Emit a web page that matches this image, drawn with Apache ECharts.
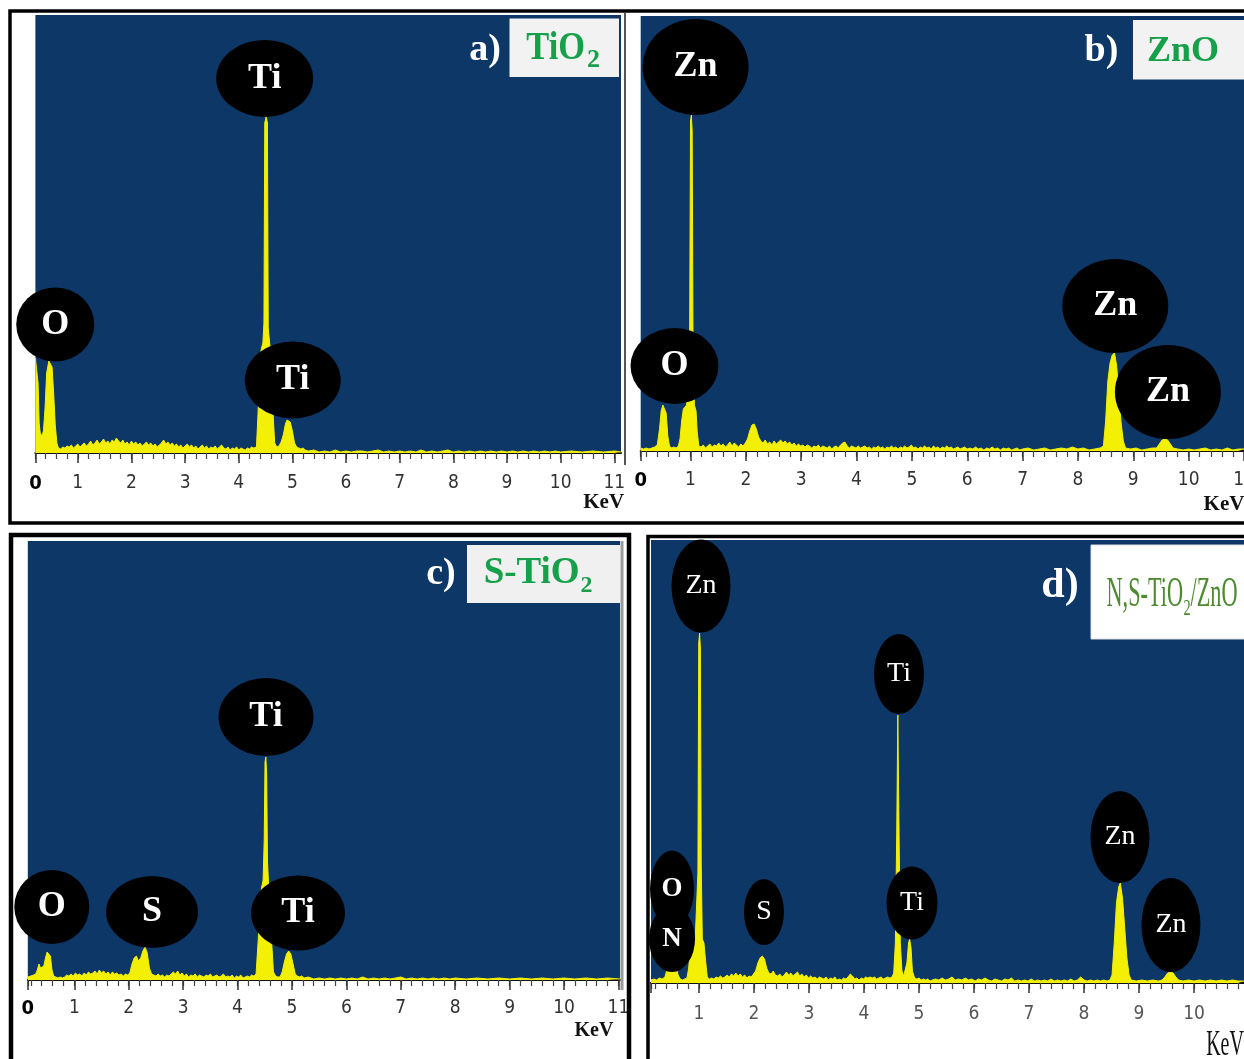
<!DOCTYPE html>
<html><head><meta charset="utf-8">
<script src="https://cdn.jsdelivr.net/npm/echarts@6/dist/echarts.min.js"></script>
<style>html,body{margin:0;padding:0;background:#fff}#c{width:1244px;height:1059px}</style>
</head><body><div id="c"></div>
<script>
// ---------- DATA (energy in keV, intensity in counts) ----------
const tickLabels = [0,1,2,3,4,5,6,7,8,9,10,11];

const specA = [[0.21,95],[0.235,93],[0.26,70],[0.28,30],[0.30,20],[0.33,17],[0.36,22],[0.39,45],[0.42,80],[0.46,92],[0.49,94],[0.52,86],[0.55,60],[0.58,28],[0.61,10],[0.64,5],
[0.68,4],[0.72,6],[0.76,5],[0.80,7],[0.84,6],[0.88,8],[0.92,5],[0.96,7],[1.00,9],[1.04,6],[1.08,8],[1.12,10],[1.16,7],[1.20,9],[1.24,12],[1.28,8],[1.32,10],[1.36,13],[1.40,9],[1.44,11],[1.48,14],[1.52,10],[1.56,12],[1.60,9],[1.64,13],[1.68,11],[1.72,15],[1.76,12],[1.80,10],[1.84,13],[1.88,9],[1.92,11],[1.96,8],[2.00,12],[2.04,9],[2.08,11],[2.12,8],[2.16,10],[2.20,7],[2.24,9],[2.28,11],[2.32,8],[2.36,10],[2.40,7],[2.44,9],[2.48,6],[2.52,8],[2.56,10],[2.60,13],[2.64,9],[2.68,11],[2.72,8],[2.76,10],[2.80,7],[2.84,9],[2.88,6],[2.92,8],[2.96,5],[3.00,7],[3.04,9],[3.08,6],[3.12,8],[3.16,5],[3.20,7],[3.24,4],[3.28,6],[3.32,8],[3.36,5],[3.40,7],[3.44,4],[3.48,6],[3.52,5],[3.56,7],[3.60,4],[3.64,6],[3.68,8],[3.72,5],[3.76,4],[3.80,6],[3.84,3],[3.88,5],[3.92,4],[3.96,6],[4.00,3],[4.04,5],[4.08,4],[4.12,3],[4.16,5],[4.20,4],[4.24,6],[4.28,5],
[4.33,6],[4.36,40],[4.39,90],[4.42,104],[4.45,110],[4.47,130],[4.485,330],[4.51,336],[4.535,330],[4.55,125],[4.58,108],[4.61,95],[4.64,40],[4.67,10],[4.71,6],[4.75,7],[4.79,11],
[4.83,18],[4.87,29],[4.90,33],[4.93,34],[4.96,31],[5.00,22],[5.04,10],[5.08,6],[5.12,5],[5.16,4],[5.20,5],[5.24,3],
[5.30,2],[5.40,3],[5.50,1],[5.60,2],[5.70,1],[5.80,3],[5.90,1],[6.00,2],[6.10,1],[6.20,2],[6.30,2],[6.40,1],[6.50,2],[6.60,3],[6.70,1],[6.80,2],[6.90,1],[7.00,2],[7.10,1],[7.20,2],[7.30,1],[7.40,3],[7.50,1],[7.60,2],[7.70,1],[7.80,2],[7.90,3],[8.00,1],[8.10,2],[8.20,1],[8.30,2],[8.40,1],[8.50,2],[8.60,1],[8.70,2],[8.80,1],[8.90,2],[9.00,1],[9.10,2],[9.20,1],[9.30,2],[9.40,1],[9.50,2],[9.60,1],[9.70,2],[9.80,1],[9.90,2],[10.00,1],[10.20,2],[10.40,1],[10.60,2],[10.80,1],[11.00,2],[11.125,1]];

const specB = [[0.10,3],[0.15,2],[0.20,3],[0.25,2],[0.30,3],[0.35,4],[0.40,6],[0.44,22],[0.47,40],[0.50,46],[0.53,47],[0.56,38],[0.59,15],[0.62,5],[0.66,3],[0.70,4],[0.74,3],[0.78,5],[0.81,12],[0.84,30],[0.87,42],[0.90,44],[0.93,46],[0.96,48],[0.985,120],[1.00,330],[1.015,336],[1.03,320],[1.045,110],[1.07,46],[1.10,40],[1.12,20],[1.15,5],
[1.19,4],[1.23,6],[1.27,3],[1.31,5],[1.35,7],[1.39,4],[1.43,6],[1.47,5],[1.51,8],[1.55,5],[1.59,7],[1.63,4],[1.67,6],[1.71,9],[1.75,5],[1.79,8],[1.83,6],[1.87,4],[1.91,7],[1.95,5],[1.99,8],
[2.03,12],[2.07,20],[2.11,26],[2.15,27],[2.19,22],[2.23,14],[2.27,10],[2.31,8],[2.35,11],[2.39,7],[2.43,9],[2.47,6],[2.51,10],[2.55,7],[2.59,9],[2.63,11],[2.67,8],[2.71,10],[2.75,7],[2.79,9],[2.83,6],[2.87,8],[2.91,5],[2.95,7],[2.99,5],[3.03,6],[3.07,4],[3.11,6],[3.15,5],[3.19,3],[3.23,5],[3.27,4],[3.31,6],[3.35,3],[3.39,5],[3.43,4],[3.47,3],[3.51,5],[3.55,2],[3.59,4],[3.63,5],[3.67,3],[3.71,6],[3.75,8],[3.79,9],[3.83,5],[3.87,3],[3.91,5],[3.95,4],[3.99,3],[4.03,5],[4.07,3],[4.11,4],[4.15,5],[4.19,3],[4.23,4],[4.27,2],[4.31,4],[4.35,3],[4.39,5],[4.43,3],[4.47,4],[4.51,2],[4.55,4],[4.59,3],[4.63,5],[4.67,3],[4.71,4],[4.75,2],[4.79,4],[4.83,3],[4.87,5],[4.91,3],[4.95,4],[4.99,6],[5.03,3],[5.07,4],[5.11,2],[5.15,4],[5.19,3],[5.23,5],[5.27,3],[5.31,4],[5.35,2],[5.39,5],[5.43,3],[5.47,4],[5.51,2],[5.55,4],[5.59,3],[5.63,5],[5.67,3],[5.71,4],[5.75,2],[5.79,3],[5.83,4],[5.87,2],[5.91,3],[5.95,4],[6.00,2],[6.05,3],[6.10,2],[6.15,4],[6.20,2],[6.25,3],[6.30,1],[6.35,3],[6.40,2],[6.45,4],[6.50,2],[6.55,3],[6.60,1],[6.65,3],[6.70,2],[6.75,3],[6.80,1],[6.85,2],[6.90,3],[6.95,1],[7.00,2],[7.10,3],[7.20,1],[7.30,2],[7.40,3],[7.50,1],[7.60,2],[7.70,3],[7.80,2],[7.90,4],[8.00,2],[8.10,3],[8.20,1],[8.30,2],[8.40,3],
[8.46,5],[8.50,30],[8.54,70],[8.58,88],[8.62,96],[8.66,98],[8.70,85],[8.74,55],[8.78,28],[8.82,10],[8.86,3],
[8.95,2],[9.05,3],[9.15,1],[9.25,2],[9.35,3],[9.42,3],
[9.47,7],[9.52,11],[9.57,12],[9.62,11],[9.67,7],[9.72,3],
[9.80,2],[9.90,1],[10.00,2],[10.10,1],[10.20,2],[10.30,3],[10.40,1],[10.50,2],[10.60,1],[10.70,3],[10.80,1],[10.90,2],[11.00,2]];

const specC = [[0.145,3],[0.20,4],[0.25,5],[0.29,6],[0.32,10],[0.35,16],[0.38,12],[0.41,10],[0.44,14],[0.47,22],[0.50,28],[0.53,30],[0.56,24],[0.59,10],[0.62,4],[0.66,3],[0.70,2],[0.74,3],[0.78,2],[0.82,3],[0.86,5],[0.90,4],[0.94,6],[0.98,4],[1.02,7],[1.06,5],[1.10,6],[1.14,4],[1.18,7],[1.22,5],[1.26,8],[1.30,6],[1.34,7],[1.38,9],[1.42,6],[1.46,10],[1.50,7],[1.54,9],[1.58,6],[1.62,8],[1.66,5],[1.70,8],[1.74,6],[1.78,7],[1.82,5],[1.86,6],[1.90,4],[1.94,6],[1.98,5],
[2.02,7],[2.06,16],[2.10,22],[2.14,24],[2.18,19],[2.22,22],[2.26,29],[2.30,33],[2.34,27],[2.38,12],[2.42,6],[2.46,5],[2.50,4],[2.54,6],[2.58,4],[2.62,5],[2.66,3],[2.70,5],[2.74,4],[2.78,6],[2.82,8],[2.86,6],[2.90,9],[2.94,5],[2.98,7],[3.02,4],[3.06,6],[3.10,3],[3.14,5],[3.18,4],[3.22,6],[3.26,3],[3.30,5],[3.34,4],[3.38,3],[3.42,5],[3.46,4],[3.50,6],[3.54,3],[3.58,4],[3.62,5],[3.66,3],[3.70,4],[3.74,6],[3.78,3],[3.82,4],[3.86,3],[3.90,5],[3.94,2],[3.98,4],[4.02,3],[4.06,5],[4.10,2],[4.14,3],[4.18,4],[4.22,3],[4.26,5],[4.30,4],[4.34,6],
[4.38,40],[4.41,75],[4.44,92],[4.47,100],[4.49,140],[4.505,218],[4.52,223],[4.535,205],[4.55,120],[4.57,95],[4.60,80],[4.63,35],[4.66,8],[4.70,4],[4.74,3],[4.78,3],[4.82,8],
[4.86,18],[4.90,26],[4.94,29],[4.98,26],[5.02,16],[5.06,6],[5.10,4],[5.14,3],[5.18,4],[5.22,2],
[5.30,3],[5.40,1],[5.50,2],[5.60,1],[5.70,2],[5.80,1],[5.90,2],[6.00,1],[6.10,2],[6.20,1],[6.30,3],[6.40,1],[6.50,2],[6.60,1],[6.70,2],[6.80,1],[6.90,2],[7.00,3],[7.10,1],[7.20,2],[7.30,1],[7.40,2],[7.50,1],[7.60,2],[7.70,1],[7.80,2],[7.90,1],[8.00,2],[8.20,1],[8.40,2],[8.60,1],[8.80,2],[9.00,1],[9.20,2],[9.40,1],[9.60,2],[9.80,1],[10.00,2],[10.20,1],[10.40,2],[10.60,1],[10.80,2],[11.029,1]];

const specD = [[0.127,3],[0.18,4],[0.23,3],[0.28,5],[0.33,4],[0.38,6],[0.42,14],[0.46,24],[0.50,28],[0.54,26],[0.58,18],[0.62,8],[0.66,4],[0.70,3],[0.74,4],[0.78,5],[0.81,14],[0.84,32],[0.87,40],[0.90,42],[0.93,43],[0.96,45],[0.98,110],[0.995,340],[1.01,350],[1.025,335],[1.04,120],[1.06,44],[1.09,40],[1.12,22],[1.15,6],[1.19,4],
[1.23,5],[1.27,4],[1.31,6],[1.35,5],[1.39,7],[1.43,5],[1.47,6],[1.51,8],[1.55,6],[1.59,9],[1.63,7],[1.67,10],[1.71,7],[1.75,9],[1.79,6],[1.83,8],[1.87,5],[1.91,7],[1.95,6],[1.99,9],
[2.03,12],[2.07,20],[2.11,25],[2.15,27],[2.19,24],[2.23,15],[2.27,10],[2.31,9],[2.35,12],[2.39,8],[2.43,7],[2.47,9],[2.51,6],[2.55,8],[2.59,11],[2.63,8],[2.67,10],[2.71,7],[2.75,9],[2.79,11],[2.83,7],[2.87,9],[2.91,6],[2.95,8],[2.99,5],[3.03,7],[3.07,5],[3.11,6],[3.15,4],[3.19,6],[3.23,5],[3.27,4],[3.31,6],[3.35,3],[3.39,5],[3.43,4],[3.47,6],[3.51,3],[3.55,4],[3.59,3],[3.63,5],[3.67,4],[3.71,6],[3.75,9],[3.79,7],[3.83,4],[3.87,5],[3.91,3],[3.95,5],[3.99,4],[4.03,6],[4.07,5],[4.11,6],[4.15,5],[4.19,6],[4.23,4],[4.27,5],[4.31,6],[4.35,4],[4.39,5],[4.43,6],[4.47,5],[4.51,6],
[4.54,10],[4.57,40],[4.595,150],[4.615,268],[4.635,160],[4.66,40],[4.69,12],[4.72,7],[4.75,8],
[4.78,20],[4.81,40],[4.83,44],[4.855,35],[4.88,12],[4.92,5],[4.96,4],[5.00,5],[5.04,3],[5.08,4],[5.12,3],[5.16,4],[5.20,2],[5.24,3],
[5.30,4],[5.36,3],[5.42,5],[5.48,3],[5.54,4],[5.60,6],[5.66,3],[5.72,4],[5.78,3],[5.84,5],[5.90,3],[5.96,4],[6.02,2],[6.08,4],[6.14,3],[6.20,5],[6.26,3],[6.32,2],[6.38,4],[6.44,3],[6.50,2],[6.56,4],[6.62,3],[6.68,5],[6.74,2],[6.80,3],[6.86,2],[6.92,3],[6.98,2],[7.04,4],[7.10,2],[7.16,3],[7.22,2],[7.28,3],[7.34,2],[7.40,4],[7.46,2],[7.52,3],[7.58,2],[7.64,3],[7.70,2],[7.76,4],[7.82,2],[7.88,3],[7.94,6],[8.00,3],[8.06,2],[8.12,3],[8.18,2],[8.24,3],[8.30,2],[8.36,3],[8.42,2],[8.47,3],
[8.51,8],[8.55,40],[8.59,80],[8.63,96],[8.66,100],[8.70,85],[8.74,55],[8.78,25],[8.82,8],[8.86,3],
[8.95,2],[9.05,3],[9.15,2],[9.25,3],[9.35,2],[9.42,3],
[9.47,6],[9.52,10],[9.57,11],[9.62,10],[9.67,6],[9.72,3],
[9.80,2],[9.90,3],[10.00,2],[10.10,3],[10.20,2],[10.30,3],[10.40,2],[10.50,3],[10.60,2],[10.70,3],[10.80,2],[10.909,2]];

// peak annotations: [element, keV, counts]
const peaksA = [['O',0.58,128.5],['Ti',4.484,374.6],['Ti',5.007,73]];
const peaksB = [['Zn',1.092,384],['O',0.711,85],['Zn',8.675,145],['Zn',9.625,59]];
const peaksC = [['O',0.586,73],['S',2.428,68],['Ti',4.523,263],['Ti',5.111,67]];
const peaksD = [['Zn',1.036,397],['O',0.509,94],['N',0.509,44],['S',2.181,71],['Ti',4.636,309],['Ti',4.873,80],['Zn',8.654,146],['Zn',9.581,58]];

// ---------- STYLE / LAYOUT ----------
const ellipseA = [[78,74],[97,77],[96,77]];
const ellipseB = [[106,96],[88,76],[106,94],[106,94]];
const ellipseC = [[75,74],[92,72],[95,78],[94,75]];
const ellipseD = [[59,93],[44,77],[46,66],[40,66],[50,80],[51,73],[59,92],[59,94]];

const BLUE = '#0c3767', YELLOW = '#f3ef05', GREEN = '#17a04a', OLIVE = '#4e8a2f';
const SERIF = "'Liberation Serif','Times New Roman',serif";
const NARROW = "'Liberation Sans Narrow','Arial Narrow','DejaVu Sans Condensed',sans-serif";
const ELLIPSE = 'path://M0,50A50,50,0,1,1,100,50A50,50,0,1,1,0,50Z';

const panels = [
  {spec:specA, peaks:peaksA, sizes:ellipseA, grid:{left:35.4, top:15, width:585.6, height:438}, xMin:0.21, xMax:11.125, yMax:438, zero:true, margin:21, lblColor:'#333', lbl:{size:36, weight:'bold'}},
  {spec:specB, peaks:peaksB, sizes:ellipseB, grid:{left:640.7, top:16, width:603.3, height:435}, xMin:0.10, xMax:11.0, yMax:435, zero:true, margin:20, lblColor:'#333', lbl:{size:36, weight:'bold'}},
  {spec:specC, peaks:peaksC, sizes:ellipseC, grid:{left:27.8, top:541, width:592.2, height:439}, xMin:0.145, xMax:11.029, yMax:439, zero:true, margin:19, lblColor:'#333', lbl:{size:36, weight:'bold'}},
  {spec:specD, peaks:peaksD, sizes:ellipseD, grid:{left:651, top:540, width:593, height:443}, xMin:0.127, xMax:10.909, yMax:443, zero:false, margin:22, lblColor:'#555', lbl:{size:28, weight:'normal', boldFor:['O','N'], boldSize:27}}
];

function minorTicks(min, max) {
  const t = [min];
  for (let k = 1; k * 0.2 <= max + 1e-9; k++) {
    const v = Math.round(k * 2) / 10;
    if (v > min + 0.05) t.push(v);
  }
  return t;
}

const grids = [], xAxes = [], yAxes = [], series = [];
panels.forEach((p, i) => {
  grids.push(Object.assign({show:true, backgroundColor:BLUE, borderWidth:0, containLabel:false, outerBoundsMode:'none'}, p.grid));
  const majors = [p.xMin].concat(tickLabels.filter(v => v >= 1 && v <= p.xMax + 1e-6));
  const lblVals = tickLabels.filter(v => v <= p.xMax + 1e-6 && (v > 0 || p.zero)).map(v => v === 0 ? p.xMin : v);
  xAxes.push({
    type:'value', gridIndex:i, position:'bottom', min:p.xMin, max:p.xMax,
    axisLine:{show:true, onZero:false, lineStyle:{color:'#111', width:2}},
    axisTick:{show:true, customValues:minorTicks(p.xMin, p.xMax), length:6, lineStyle:{color:'#444', width:1.2}},
    axisLabel:{show:true, customValues:lblVals, margin:p.margin, color:p.lblColor, fontSize:19, fontFamily:NARROW,
      formatter: v => v < 0.9 ? '{z|0}' : String(Math.round(v)),
      rich:{z:{fontSize:20, fontWeight:'bold', color:'#000', fontFamily:NARROW}}},
    splitLine:{show:false}
  });
  xAxes.push({
    type:'value', gridIndex:i, position:'bottom', min:p.xMin, max:p.xMax,
    axisLine:{show:false},
    axisTick:{show:true, customValues:majors, length:10, lineStyle:{color:'#333', width:1.5}},
    axisLabel:{show:false}, splitLine:{show:false}
  });
  yAxes.push({type:'value', gridIndex:i, min:0, max:p.yMax, show:false, splitLine:{show:false}});
  series.push({
    type:'line', xAxisIndex:2*i, yAxisIndex:i, data:p.spec, showSymbol:false, symbol:'none', silent:true,
    lineStyle:{color:YELLOW, width:1}, areaStyle:{color:YELLOW, opacity:1},
    markPoint:{
      symbol:ELLIPSE, silent:true, animation:false,
      data:p.peaks.map((pk, j) => {
        const bold = p.lbl.boldFor && p.lbl.boldFor.indexOf(pk[0]) >= 0;
        return {
          name:pk[0], coord:[pk[1], pk[2]], symbolSize:p.sizes[j],
          itemStyle:{color:'#000'},
          label:{show:true, position:'inside', formatter:'{b}', color:'#fff', fontFamily:SERIF,
                 fontSize: bold ? p.lbl.boldSize : p.lbl.size, fontWeight: bold ? 'bold' : p.lbl.weight}
        };
      })
    }
  });
});

function txt(x, y, text, size, opts) {
  opts = opts || {};
  return {type:'text', x:x, y:y, scaleX:opts.sx || 1, z:100,
    style:{text:text, fill:opts.fill || '#fff', fontFamily:SERIF, fontSize:size, fontWeight:opts.weight || 'bold',
           align:opts.align || 'center', verticalAlign:'middle'}};
}
function box(x, y, w, h, fill, stroke) {
  return {type:'rect', z:90, shape:{x:x, y:y, width:w, height:h}, style:{fill:fill, stroke:stroke || null, lineWidth:1}};
}

const graphic = [
  {type:'rect', z:95, shape:{x:10, y:11, width:1250, height:512}, style:{fill:'none', stroke:'#000', lineWidth:3.5}},
  {type:'line', z:95, shape:{x1:625, y1:13, x2:625, y2:465}, style:{stroke:'#555', lineWidth:2}},
  {type:'rect', z:95, shape:{x:11, y:535, width:618, height:540}, style:{fill:'none', stroke:'#000', lineWidth:4.5}},
  {type:'rect', z:95, shape:{x:648, y:536.5, width:610, height:540}, style:{fill:'none', stroke:'#000', lineWidth:3.5}},
  {type:'line', z:95, shape:{x1:622, y1:541, x2:622, y2:990}, style:{stroke:'#9a9a9a', lineWidth:3}},
  box(509.5, 18.6, 109.5, 58.4, '#f2f2f2'),
  box(1133, 20, 112, 59.5, '#f2f2f2'),
  box(467, 545, 153, 58, '#f0f0f0'),
  box(1091, 545, 154, 94, '#ffffff', '#dddddd'),
  txt(485, 50, 'a)', 38),
  txt(585, 48.5, 'TiO', 40, {fill:GREEN, align:'right', sx:0.86}),
  txt(587, 60.5, '2', 26, {fill:GREEN, align:'left'}),
  txt(1101.5, 51, 'b)', 38),
  txt(1183, 51.5, 'ZnO', 36, {fill:GREEN}),
  txt(441, 574, 'c)', 38),
  txt(579.6, 573.3, 'S-TiO', 37, {fill:GREEN, align:'right'}),
  txt(580.5, 585.6, '2', 24, {fill:GREEN, align:'left'}),
  txt(1060, 586, 'd)', 42),
  txt(1183, 595.3, 'N,S-TiO', 42, {fill:OLIVE, align:'right', sx:0.53, weight:'normal'}),
  txt(1183.5, 608.3, '2', 24, {fill:OLIVE, align:'left', sx:0.6, weight:'normal'}),
  txt(1190.5, 595.3, '/ZnO', 42, {fill:OLIVE, align:'left', sx:0.53, weight:'normal'}),
  txt(603.7, 503, 'KeV', 21, {fill:'#111'}),
  txt(1224, 505, 'KeV', 21, {fill:'#111'}),
  txt(594, 1030.6, 'KeV', 20, {fill:'#111'}),
  txt(1225, 1046, 'KeV', 35, {fill:'#111', sx:0.57, weight:'normal'})
];

const chart = echarts.init(document.getElementById('c'), null, {renderer:'canvas'});
chart.setOption({
  animation:false,
  backgroundColor:'#ffffff',
  grid:grids, xAxis:xAxes, yAxis:yAxes, series:series, graphic:graphic
});
</script></body></html>
